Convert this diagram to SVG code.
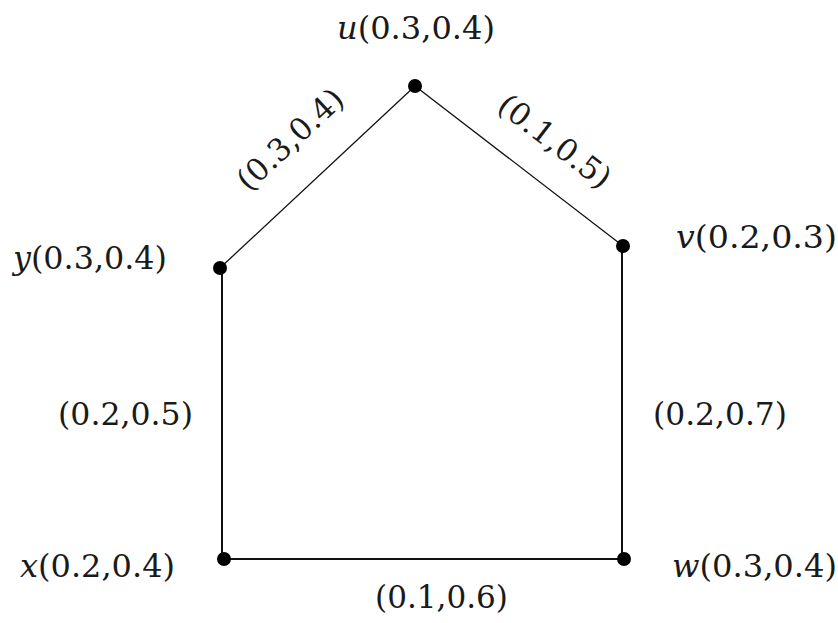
<svg xmlns="http://www.w3.org/2000/svg" width="838" height="623" viewBox="0 0 838 623">
<style>
.edge{stroke:#111;fill:none}
.thick{stroke-width:2}
.thin{stroke-width:1.3}
.dot{fill:#000}
.lbl{font-family:"DejaVu Serif","Liberation Serif",serif;font-size:31px;fill:#1a1a1a}
.var{font-style:italic}
</style>
<rect width="838" height="623" fill="#fff"/>
<g id="connectors">
<line class="edge thin" x1="220" y1="268" x2="415" y2="86"/>
<line class="edge thin" x1="415" y1="86" x2="623" y2="246"/>
<line class="edge thick" x1="622" y1="246" x2="622" y2="559"/>
<line class="edge thick" x1="222" y1="268" x2="222" y2="559"/>
<line class="edge thick" x1="222" y1="559" x2="624" y2="559"/>
<text class="lbl" transform="translate(290,139) rotate(-43)" x="0" y="11" text-anchor="middle" textLength="133" lengthAdjust="spacingAndGlyphs">(0.3,0.4)</text>
<text class="lbl" transform="translate(555,141) rotate(37.5)" x="0" y="11" text-anchor="middle" textLength="133" lengthAdjust="spacingAndGlyphs">(0.1,0.5)</text>
<text class="lbl" x="58" y="425" textLength="135" lengthAdjust="spacingAndGlyphs">(0.2,0.5)</text>
<text class="lbl" x="653" y="425" textLength="134" lengthAdjust="spacingAndGlyphs">(0.2,0.7)</text>
<text class="lbl" x="375" y="608" textLength="133" lengthAdjust="spacingAndGlyphs">(0.1,0.6)</text>
</g>
<g id="node-u">
<circle class="dot" cx="415" cy="86" r="7"/>
<text class="lbl" x="337" y="39" textLength="158" lengthAdjust="spacingAndGlyphs"><tspan class="var">u</tspan>(0.3,0.4)</text>
</g>
<g id="node-v">
<circle class="dot" cx="623" cy="246" r="7"/>
<text class="lbl" x="676" y="248" textLength="161" lengthAdjust="spacingAndGlyphs"><tspan class="var">v</tspan>(0.2,0.3)</text>
</g>
<g id="node-y">
<circle class="dot" cx="220" cy="268" r="7"/>
<text class="lbl" x="13" y="269" textLength="154" lengthAdjust="spacingAndGlyphs"><tspan class="var">y</tspan>(0.3,0.4)</text>
</g>
<g id="node-x">
<circle class="dot" cx="224" cy="559" r="7"/>
<text class="lbl" x="20" y="577" textLength="155" lengthAdjust="spacingAndGlyphs"><tspan class="var">x</tspan>(0.2,0.4)</text>
</g>
<g id="node-w">
<circle class="dot" cx="624" cy="559" r="7"/>
<text class="lbl" x="672" y="577" textLength="165" lengthAdjust="spacingAndGlyphs"><tspan class="var">w</tspan>(0.3,0.4)</text>
</g>
</svg>
